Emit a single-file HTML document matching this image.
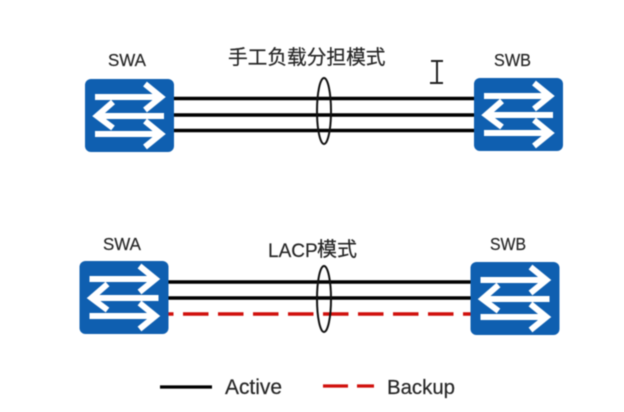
<!DOCTYPE html>
<html>
<head>
<meta charset="utf-8">
<style>
html,body{margin:0;padding:0;background:#fff;width:624px;height:412px;overflow:hidden}
svg{display:block;filter:blur(0.5px)}
text{font-family:"Liberation Sans","Noto Sans CJK SC",sans-serif;fill:#262626;stroke:#262626;stroke-width:0.2px}
</style>
</head>
<body>
<svg width="624" height="412" viewBox="0 0 624 412" xmlns="http://www.w3.org/2000/svg">
<defs>
<g id="sw">
<rect x="0" y="0" width="89" height="73" rx="6" ry="6" fill="#0f5fb0"/>
<g fill="none" stroke="#fff" stroke-width="6">
<path d="M10 18H75"/><path d="M60 5L76 18L60 31"/>
<path d="M79 37H14"/><path d="M28 23L12 37L28 49"/>
<path d="M10 55H75"/><path d="M60 42L76 55L60 68"/>
</g>
</g>
</defs>

<!-- top group lines -->
<g stroke="#000" stroke-width="3.6" fill="none">
<path d="M170 98.500H478"/><path d="M170 115H478"/><path d="M170 130.500H478"/>
</g>
<ellipse cx="324" cy="111" rx="7" ry="33" fill="none" stroke="#111" stroke-width="2"/>
<use href="#sw" x="85" y="79"/>
<use href="#sw" x="474" y="78"/>

<!-- bottom group lines -->
<g stroke="#000" stroke-width="3.400" fill="none">
<path d="M165 282H475"/><path d="M165 298H475"/>
</g>
<path d="M148 314H475" stroke="#d0100c" stroke-width="3.400" fill="none" stroke-dasharray="25.500 9.500"/>
<ellipse cx="324" cy="299" rx="7" ry="33" fill="none" stroke="#111" stroke-width="2"/>
<use href="#sw" x="79.500" y="261"/>
<use href="#sw" x="470.500" y="262"/>

<!-- labels -->
<text x="108" y="66" font-size="17.500" textLength="38" lengthAdjust="spacingAndGlyphs">SWA</text>
<text x="494" y="66" font-size="17.500" textLength="37" lengthAdjust="spacingAndGlyphs">SWB</text>
<text x="103" y="250" font-size="17.500" textLength="38" lengthAdjust="spacingAndGlyphs">SWA</text>
<text x="490" y="250" font-size="17.500" textLength="36" lengthAdjust="spacingAndGlyphs">SWB</text>
<text x="228" y="64" font-size="19.700">手工负载分担模式</text>
<text x="268" y="257" font-size="19">LACP</text>
<text x="317" y="256" font-size="20">模式</text>

<!-- text cursor -->
<g fill="none" stroke="#222" stroke-width="2">
<path d="M431 61H443"/><path d="M437 61V82"/><path d="M430 83H443"/>
</g>

<!-- legend -->
<path d="M160 387H212" stroke="#000" stroke-width="3.200"/>
<text x="225" y="394" font-size="21" textLength="57" lengthAdjust="spacingAndGlyphs">Active</text>
<path d="M323 386H348M357 386H374" stroke="#d0100c" stroke-width="3.200"/>
<text x="387" y="394" font-size="20.500" textLength="68" lengthAdjust="spacingAndGlyphs">Backup</text>
</svg>
</body>
</html>
